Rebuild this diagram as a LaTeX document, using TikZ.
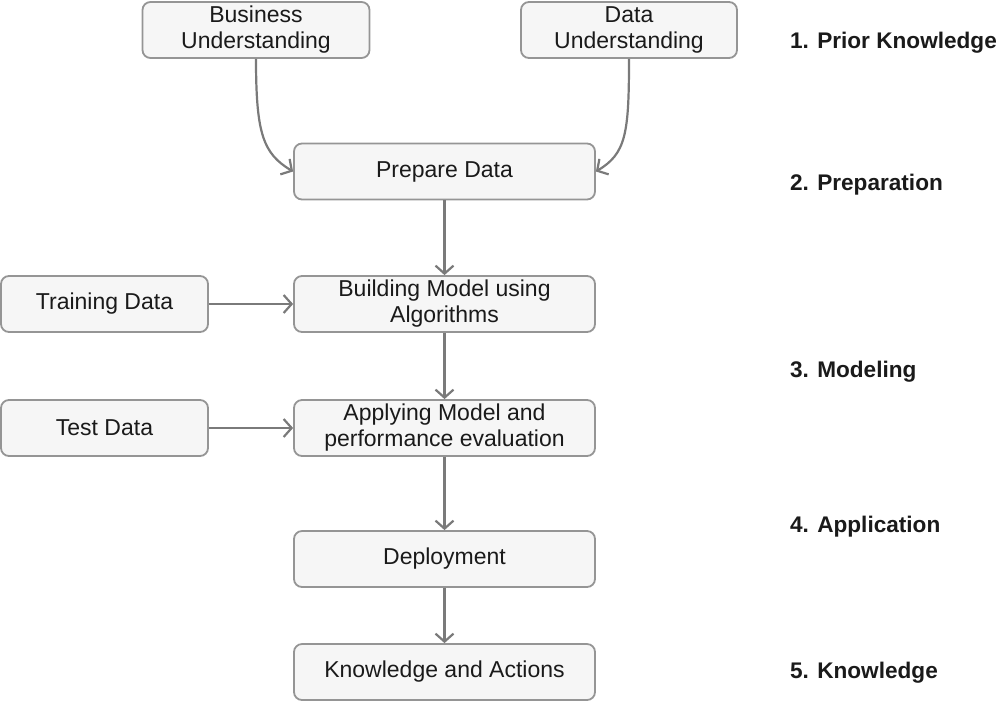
\documentclass[tikz,border=0pt]{standalone}
\usepackage{fontspec}
\setmainfont{Liberation Sans}
\usetikzlibrary{arrows.meta,positioning}
\definecolor{boxfill}{HTML}{F6F6F6}
\definecolor{boxline}{HTML}{959595}
\definecolor{flowgray}{HTML}{7A7A7A}
\definecolor{txtdark}{HTML}{1A1A1A}

\begin{document}
\begin{tikzpicture}[x=0.5pt,y=-0.5pt,
  stage/.style={draw=boxline,fill=boxfill,line width=0.9pt,rounded corners=4pt,
    minimum width=150.5pt,minimum height=28pt,align=center,inner sep=1pt,
    font=\fontsize{11.5}{13}\selectfont,text=txtdark},
  flow/.style={-{Straight Barb[length=4pt,width=9pt]},flowgray,line width=1.1pt},
  phase/.style={anchor=west,font=\fontsize{11.3}{13}\selectfont\bfseries,text=txtdark}]

  \useasboundingbox (0,0) rectangle (999,703);

  % ---- Input boxes -------------------------------------------
  \node[stage,minimum width=113.5pt] (business) at (256,30)
    {Business\\Understanding};
  \node[stage,minimum width=108pt]   (dataund)  at (629,30)
    {Data\\Understanding};

  % ---- Main process chain ------------------------------------
  \node[stage] (prepare) at (444.5,171.5) {Prepare Data};
  \node[stage] (build)   at (444.5,304)   {Building Model using\\Algorithms};
  \node[stage] (apply)   at (444.5,428)   {Applying Model and\\performance evaluation};
  \node[stage] (deploy)  at (444.5,559)   {Deployment};
  \node[stage] (knowact) at (444.5,672)   {Knowledge and Actions};

  % ---- Data sets ---------------------------------------------
  \node[stage,minimum width=103.5pt] (train) at (104.5,304) {Training Data};
  \node[stage,minimum width=103.5pt] (test)  at (104.5,428) {Test Data};

  % ---- Connectors --------------------------------------------
  \draw[flow] (business.south) .. controls +(0,75) and +(-30,-18) .. (prepare.west);
  \draw[flow] (dataund.south)  .. controls +(0,75) and +(30,-18)  .. (prepare.east);
  \draw[flow] (prepare) -- (build);
  \draw[flow] (build)   -- (apply);
  \draw[flow] (apply)   -- (deploy);
  \draw[flow] (deploy)  -- (knowact);
  \draw[flow] (train)   -- (build);
  \draw[flow] (test)    -- (apply);

  % ---- Phase labels ------------------------------------------
  \node[phase] (ph1) at (783,43)  {1. Prior Knowledge};
  \node[phase] (ph2) at (783,185) {2. Preparation};
  \node[phase] (ph3) at (783,372) {3. Modeling};
  \node[phase] (ph4) at (783,527) {4. Application};
  \node[phase] (ph5) at (783,673) {5. Knowledge};

\end{tikzpicture}
\end{document}
